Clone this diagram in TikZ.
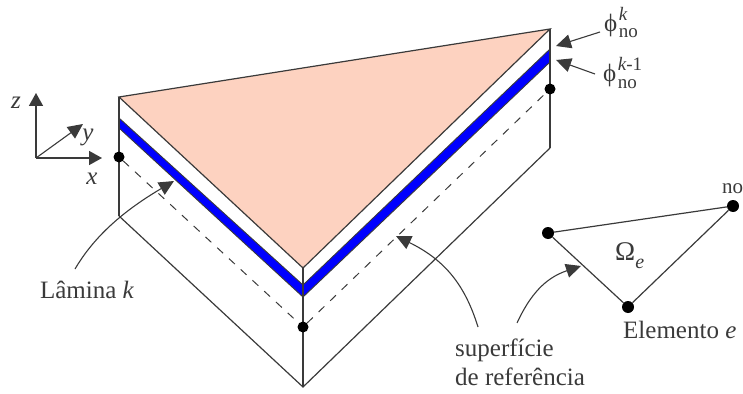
\documentclass[tikz,border=0pt]{standalone}
\usepackage{fontspec}
\setmainfont{Liberation Serif}
\usetikzlibrary{arrows.meta}
\definecolor{ink}{HTML}{3A3A3A}
\definecolor{salmon}{HTML}{FDD2C0}
\definecolor{lamina}{HTML}{0000FF}
\tikzset{
  edge/.style={draw=ink,line width=1.2pt},
  stripedge/.style={draw=ink,line width=0.9pt},
  thickedge/.style={draw=ink,line width=1.5pt},
  dashline/.style={draw=ink,line width=1pt,dash pattern=on 8pt off 8pt},
  pointer/.style={draw=ink,line width=1.1pt,-{Triangle[length=15pt,width=14pt,fill=ink]}},
  axis/.style={draw=ink,line width=1.6pt,-{Triangle[length=13pt,width=14pt,fill=ink]}},
  dot/.style={circle,fill=black,inner sep=0pt,minimum size=11pt},
  lbl/.style={text=ink,font=\fontsize{25}{29}\selectfont,inner sep=0pt},
}
\newcommand{\philbl}[1]{{\fontsize{25}{25}\selectfont\char"03D5}\hspace{1.5pt}\rlap{\raisebox{-6pt}{\fontsize{19}{19}\selectfont no}}\raisebox{11pt}{\fontsize{19}{19}\selectfont #1}}
\begin{document}
\begin{tikzpicture}[x=1pt,y=-1pt]
\useasboundingbox (0,0) rectangle (743,393);
\coordinate (A) at (119,97);
\coordinate (B) at (550,29);
\coordinate (C) at (303,268);
\coordinate (Ab) at (119,216);
\coordinate (Bb) at (550,148);
\coordinate (Cb) at (303,387);
\fill[salmon] (A)--(B)--(C)--cycle;
\fill[lamina] (119,118)--(303,285)--(550,49)--(550,62)--(303,297)--(119,128)--cycle;
\draw[stripedge] (119,118)--(303,285)--(550,49) (119,128)--(303,297)--(550,62);
\draw[edge] (A)--(B)--(C)--cycle;
\draw[edge] (Ab)--(Cb)--(Bb);
\draw[thickedge] (A)--(Ab) (B)--(Bb) (C)--(Cb);
\node[dot] (n1) at (119,157) {};
\node[dot] (n2) at (303,327) {};
\node[dot] (n3) at (550,89) {};
\draw[dashline] (n1)--(n2)--(n3);
% axes
\coordinate (O) at (36,158);
\coordinate (zt) at (36,93);
\coordinate (xt) at (102,158);
\coordinate (yt) at (83,124);
\draw[axis] (O)--(zt);
\draw[axis] (O)--(xt);
\draw[pointer] (O)--(yt);
\node[lbl,anchor=base] (lz) at (16,109) {\itshape z};
\node[lbl,anchor=base] (ly) at (88,140) {\itshape y};
\node[lbl,anchor=base] (lx) at (92,184) {\itshape x};
% phi labels
\node[lbl,anchor=base west] (phik) at (604,32) {\philbl{\itshape k}};
\node[lbl,anchor=base west] (phil) at (603,82) {\philbl{\itshape k\upshape-1}};
\coordinate (tk) at (556,46);
\coordinate (tl) at (556,60);
\draw[pointer] (600,32)--(tk);
\draw[pointer] (595,74)--(tl);
% element
\node[dot,minimum size=12pt] (e1) at (548,233) {};
\node[dot,minimum size=12pt] (e2) at (733,206) {};
\node[dot,minimum size=12pt] (e3) at (628,307) {};
\draw[edge] (e1)--(e2)--(e3)--(e1);
\node[lbl,anchor=base west] (om) at (615,260) {{\fontsize{27}{27}\selectfont\char"03A9}\raisebox{-8pt}{\fontsize{20}{20}\selectfont\itshape e}};
\node[lbl,anchor=base west,font=\fontsize{21}{24}\selectfont] (no) at (722,193) {no};
\node[lbl,anchor=base west] (el) at (623,338) {Elemento \itshape e};
\coordinate (et) at (581,266);
\coordinate (es) at (517,323);
\draw[pointer] (es) .. controls (530,295) and (545,278) .. (et);
% lamina
\node[lbl,anchor=base east] (lam) at (134,298) {Lâmina \itshape k};
\coordinate (ls) at (75,269);
\coordinate (lt) at (174,181);
\draw[pointer] (ls) .. controls (95,235) and (125,210) .. (lt);
% superficie
\coordinate (ss) at (478,327);
\coordinate (st) at (396,236);
\draw[pointer] (ss) .. controls (465,285) and (445,260) .. (st);
\node[lbl,anchor=base west] (s1) at (455,356) {superfície};
\node[lbl,anchor=base west] (s2) at (455,385) {de referência};
\end{tikzpicture}
\end{document}
